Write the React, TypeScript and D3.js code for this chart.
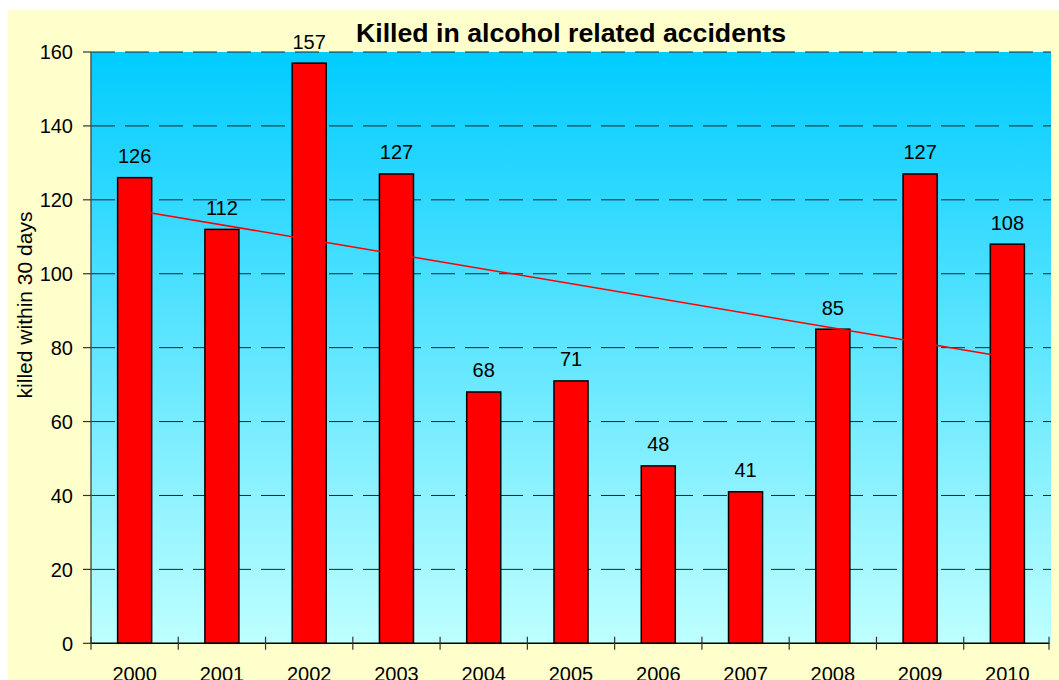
import React from "react";
import * as d3 from "d3";

const years = ["2000","2001","2002","2003","2004","2005","2006","2007","2008","2009","2010"];
const killed = [126, 112, 157, 127, 68, 71, 48, 41, 85, 127, 108];
const yTicks = [0, 20, 40, 60, 80, 100, 120, 140, 160];
const trendEnds = [117.2, 77.4];
const title = "Killed in alcohol related accidents";
const yLabel = "killed within 30 days";

const W = 1059, H = 680;
const plot = { left: 91, top: 52, right: 1051, bottom: 643.3 };
const font = "'Liberation Sans', Arial, sans-serif";

export default function App() {
  const x = d3.scaleBand<string>().domain(years).range([plot.left, plot.right]).paddingInner(0).paddingOuter(0);
  const y = d3.scaleLinear().domain([0, 160]).range([plot.bottom, plot.top]);
  const bw = x.bandwidth() * 0.39;
  const cx = (yr: string) => (x(yr) as number) + x.bandwidth() / 2;
  const trend = d3.line<number>()
    .x((_, i) => cx(i === 0 ? years[0] : years[years.length - 1]))
    .y((v) => y(v));
  const boundaries = d3.range(years.length + 1).map((i) => plot.left + i * x.bandwidth());

  return (
    <svg width={W} height={H} style={{ position: "fixed", left: 0, top: 0 }} fontFamily={font}>
      <defs>
        <linearGradient id="bg" x1="0" y1="0" x2="0" y2="1">
          <stop offset="0" stopColor="#00CCFF" />
          <stop offset="1" stopColor="#BEFFFF" />
        </linearGradient>
      </defs>
      <rect x={0} y={0} width={W} height={H} fill="#ffffff" />
      <rect x={8} y={10} width={W - 8} height={H - 10} fill="#FFFFCC" />
      <rect x={plot.left} y={plot.top} width={plot.right - plot.left} height={plot.bottom - plot.top} fill="url(#bg)" />
      {yTicks.filter((t) => t > 0).map((t) => (
        <line key={"g" + t} x1={plot.left} x2={plot.right} y1={y(t)} y2={y(t)} stroke="#222" strokeWidth={1} strokeDasharray="24 10" />
      ))}
      {years.map((yr, i) => (
        <rect key={yr} x={cx(yr) - bw / 2} y={y(killed[i])} width={bw} height={y(0) - y(killed[i])} fill="#FF0000" stroke="#000" strokeWidth={1.5} />
      ))}
      <path d={trend(trendEnds) || ""} fill="none" stroke="#FF0000" strokeWidth={1.5} />
      <line x1={plot.left} x2={plot.left} y1={plot.top} y2={plot.bottom} stroke="#555" strokeWidth={1.5} />
      <line x1={plot.left} x2={plot.right - 1.5} y1={plot.bottom} y2={plot.bottom} stroke="#000" strokeWidth={1.5} />
      {yTicks.map((t) => (
        <g key={"t" + t}>
          <line x1={plot.left - 8} x2={plot.left} y1={y(t)} y2={y(t)} stroke="#333" strokeWidth={1.2} />
          <text x={73} y={y(t)} dy="0.36em" textAnchor="end" fontSize={20} fill="#000">{t}</text>
        </g>
      ))}
      {boundaries.map((b, i) => (
        <line key={"b" + i} x1={Math.min(b, plot.right - 2)} x2={Math.min(b, plot.right - 2)} y1={plot.bottom - 6.5} y2={plot.bottom + 6.5} stroke="#333" strokeWidth={1.2} />
      ))}
      {years.map((yr) => (
        <text key={"x" + yr} x={cx(yr)} y={681} textAnchor="middle" fontSize={20} fill="#000">{yr}</text>
      ))}
      {years.map((yr, i) => (
        <text key={"l" + yr} x={cx(yr)} y={y(killed[i]) - 14.5} textAnchor="middle" fontSize={20} fill="#000">{killed[i]}</text>
      ))}
      <text x={(plot.left + plot.right) / 2} y={42} textAnchor="middle" fontSize={26.7} fontWeight="bold" fill="#000">{title}</text>
      <text transform={`translate(32,305) rotate(-90)`} textAnchor="middle" fontSize={21} fill="#000">{yLabel}</text>
    </svg>
  );
}
